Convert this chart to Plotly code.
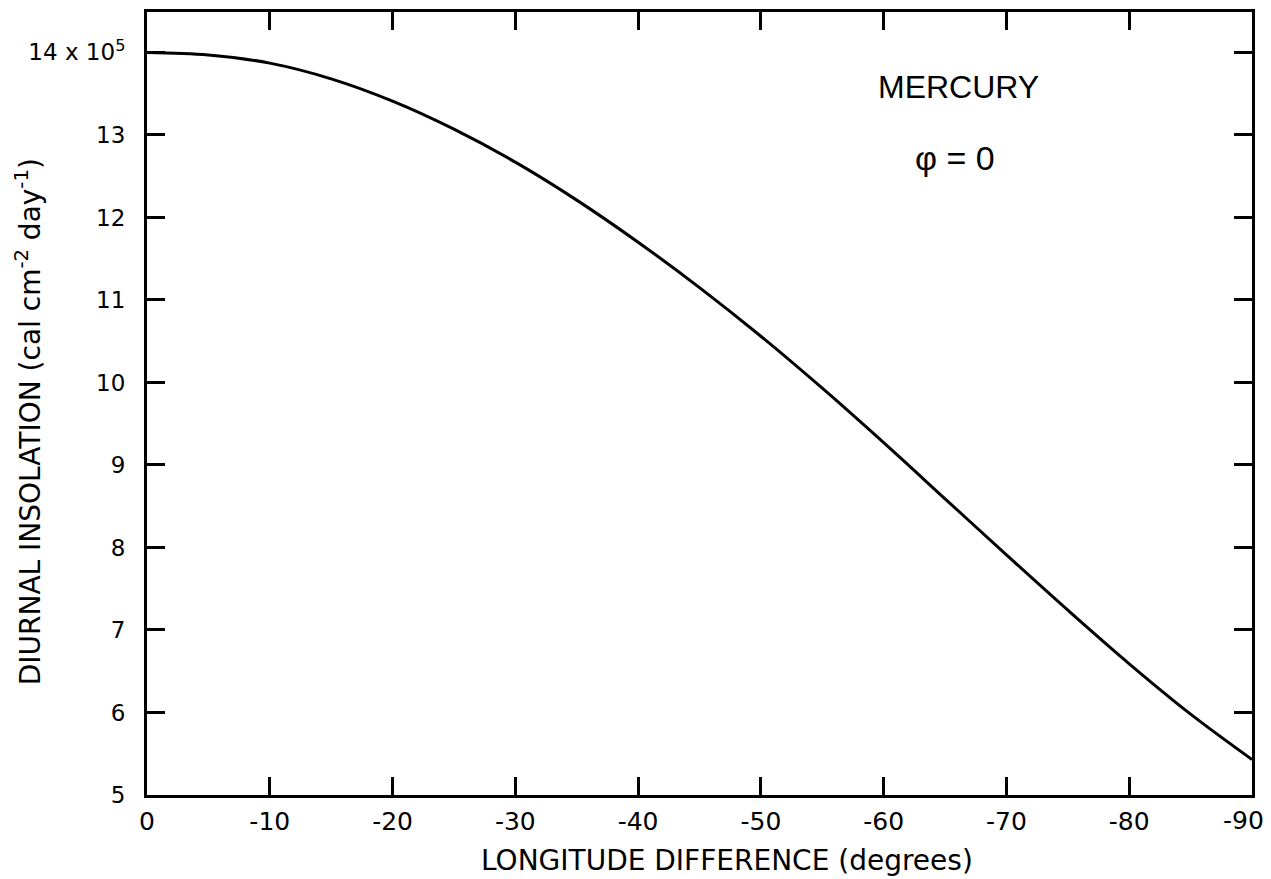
import plotly.graph_objects as go

# Data
longitude = [0, -5, -10, -15, -20, -25, -30, -35, -40, -45, -50, -55, -60, -65, -70, -75, -80, -85, -90]
insolation = [14.00, 13.97, 13.87, 13.68, 13.41, 13.07, 12.67, 12.21, 11.70, 11.15, 10.56, 9.93, 9.27, 8.59, 7.91, 7.24, 6.59, 5.98, 5.43]

x_ticks = [0, -10, -20, -30, -40, -50, -60, -70, -80, -90]
x_ticktext = ["0", "-10", "-20", "-30", "-40", "-50", "-60", "-70", "-80", "-90"]
y_ticks = [5, 6, 7, 8, 9, 10, 11, 12, 13, 14]
y_ticktext = ["5", "6", "7", "8", "9", "10", "11", "12", "13", "14 x 10<sup>5</sup>"]

FONT = "DejaVu Sans"
FONT2 = "Liberation Sans"

fig = go.Figure()
fig.add_trace(go.Scatter(
    x=longitude, y=insolation, mode="lines",
    line=dict(color="black", width=3, shape="spline", smoothing=1.0),
    showlegend=False, hoverinfo="skip",
))

axis_common = dict(
    showgrid=False, zeroline=False, showline=True, linecolor="black", linewidth=3,
    ticks="inside", ticklen=18, tickwidth=2.5, tickcolor="black", mirror="ticks",
    ticklabeloverflow="allow", automargin=False,
)

# the last x label sits slightly left of its tick in the reference (drawn as an annotation)
x_axis_text = x_ticktext[:-1] + [""]

# page body has an 8px margin, so margins are shifted accordingly
fig.update_layout(
    width=1263, height=871,
    margin=dict(l=139, r=19, t=4, b=84, autoexpand=False),
    paper_bgcolor="white", plot_bgcolor="white",
    font=dict(family=FONT, color="black"),
    xaxis=dict(range=[0, -90], tickvals=x_ticks, ticktext=x_axis_text,
               ticklabelstandoff=2, tickfont=dict(family=FONT, size=25, color="black"),
               **axis_common),
    yaxis=dict(range=[5, 14.49], tickvals=y_ticks, ticktext=y_ticktext,
               ticklabelstandoff=14, tickfont=dict(family=FONT, size=23, color="black"),
               **axis_common),
    annotations=[
        dict(text=x_ticktext[-1], xref="x", yref="paper",
             x=x_ticks[-1], y=-0.033, xshift=-9, xanchor="center", yanchor="middle", showarrow=False,
             font=dict(family=FONT, size=25, color="black")),
        dict(text="LONGITUDE DIFFERENCE (degrees)", xref="paper", yref="paper",
             x=0.525, y=-0.084, xanchor="center", yanchor="middle", showarrow=False,
             font=dict(family=FONT, size=28, color="black")),
        dict(text="DIURNAL INSOLATION (cal cm<sup>-2</sup> day<sup>-1</sup>)", xref="paper", yref="paper",
             x=-0.107, y=0.477, xanchor="center", yanchor="middle", textangle=-90, showarrow=False,
             font=dict(family=FONT, size=28, color="black")),
        dict(text="MERCURY", xref="paper", yref="paper",
             x=0.734, y=0.904, xanchor="center", yanchor="middle", showarrow=False,
             font=dict(family=FONT2, size=32, color="black")),
        dict(text="φ = 0", xref="paper", yref="paper",
             x=0.731, y=0.813, xanchor="center", yanchor="middle", showarrow=False,
             font=dict(family=FONT2, size=34, color="black")),
    ],
)

fig.write_html("out.html")
